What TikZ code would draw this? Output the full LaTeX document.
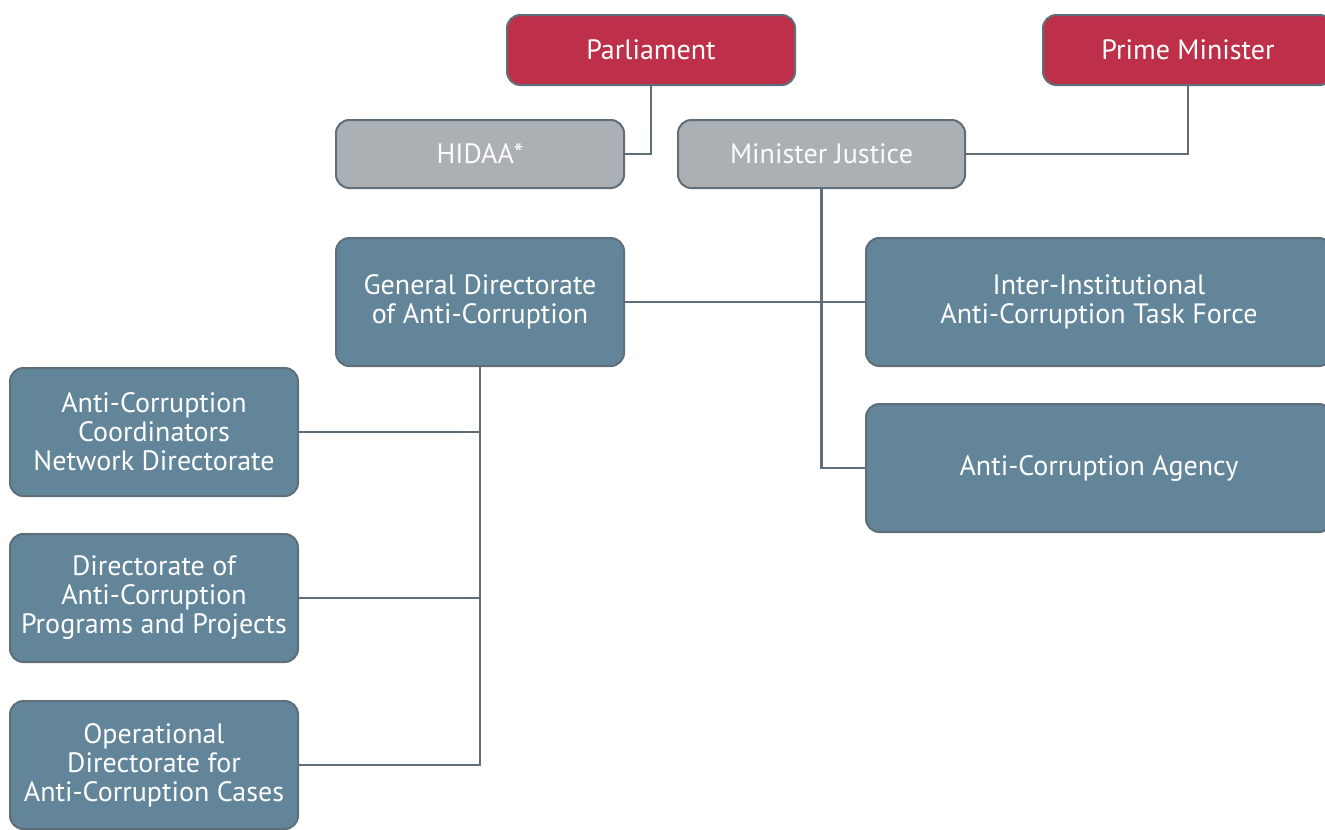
\documentclass[tikz,border=0pt]{standalone}
\usepackage{fontspec}
\setmainfont{PT Sans}
\usetikzlibrary{backgrounds}
\definecolor{redbox}{HTML}{BE3049}
\definecolor{graybox}{HTML}{ABB0B5}
\definecolor{bluebox}{HTML}{628599}
\definecolor{edge}{HTML}{5F6E78}
\tikzset{
  box/.style={draw=edge, line width=1.5pt, rounded corners=10pt, text=white, align=center,
    font=\fontsize{21}{21.75}\selectfont, inner sep=0pt},
  redb/.style={box, fill=redbox},
  grayb/.style={box, fill=graybox, text=white!96!graybox},
  blueb/.style={box, fill=bluebox},
  conn/.style={draw=edge, line width=2.2pt}
}
\begin{document}
\begin{tikzpicture}[x=0.75pt, y=-0.75pt]
\useasboundingbox (0,0) rectangle (1325,829);
\node[redb, minimum width=288*0.75pt, minimum height=70*0.75pt] (parl) at (651,50) {Parliament};
\node[redb, minimum width=290*0.75pt, minimum height=70*0.75pt] (pm) at (1188,50) {Prime Minister};
\node[grayb, minimum width=288*0.75pt, minimum height=68*0.75pt] (hidaa) at (480,154) {HIDAA*};
\node[grayb, minimum width=287*0.75pt, minimum height=68*0.75pt] (mj) at (821.5,154) {Minister Justice};
\node[blueb, minimum width=288*0.75pt, minimum height=128*0.75pt] (gd) at (480,302) {General Directorate\\of Anti-Corruption};
\node[blueb, minimum width=466*0.75pt, minimum height=128*0.75pt] (task) at (1099,302) {Inter-Institutional\\Anti-Corruption Task Force};
\node[blueb, minimum width=466*0.75pt, minimum height=128*0.75pt] (agency) at (1099,468) {Anti-Corruption Agency};
\node[blueb, minimum width=288*0.75pt, minimum height=128*0.75pt] (b1) at (154,432) {Anti-Corruption\\Coordinators\\Network Directorate};
\node[blueb, minimum width=288*0.75pt, minimum height=128*0.75pt] (b2) at (154,598) {Directorate of\\Anti-Corruption\\Programs and Projects};
\node[blueb, minimum width=288*0.75pt, minimum height=128*0.75pt] (b3) at (154,765) {Operational\\Directorate for\\Anti-Corruption Cases};
\begin{scope}[on background layer]
\draw[conn] (parl.south) |- (hidaa.east);
\draw[conn] (pm.south) |- (mj.east);
\draw[conn] (mj.south) |- (agency.west);
\draw[conn] (gd.east) -- (task.west);
\draw[conn] (gd.south) |- (b1.east);
\draw[conn] (gd.south) |- (b2.east);
\draw[conn] (gd.south) |- (b3.east);
\end{scope}
\end{tikzpicture}
\end{document}
